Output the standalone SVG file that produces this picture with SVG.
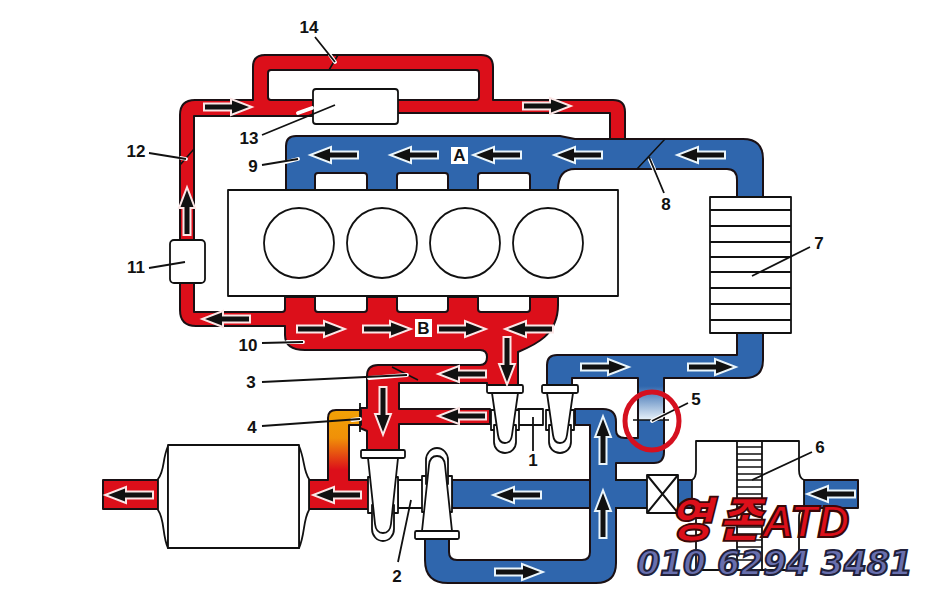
<svg xmlns="http://www.w3.org/2000/svg" width="950" height="601" viewBox="0 0 950 601">
<style>
.p{stroke:#1a1014;stroke-width:2;stroke-linejoin:round}
.r{fill:#dc0f1a}
.b{fill:#2f66ad}
.w{fill:#fff;stroke:#111;stroke-width:1.8;stroke-linejoin:round}
.l{fill:none;stroke:#111;stroke-width:2}
.t{fill:#111;font-family:"Liberation Sans",Arial,sans-serif;font-weight:700;font-size:17px;text-anchor:middle}
.lead{fill:none;stroke:#111;stroke-width:1.8}
.halo{fill:none;stroke:#fff;stroke-width:3.8;stroke-linecap:round}
.ar{stroke:#fbe6e6;stroke-width:4;paint-order:stroke;stroke-linejoin:miter;fill:#111}
.ab{stroke:#eaf5fb;stroke-width:4;paint-order:stroke;stroke-linejoin:miter;fill:#111}
.wm1{font-family:"Noto Sans CJK KR",sans-serif;font-weight:900;font-style:italic;fill:#dc0f1a;stroke:#3a0808;stroke-width:1.8;font-size:48px}
.wm2{font-family:"Liberation Sans",Arial,sans-serif;font-weight:700;font-style:italic;fill:#dc0f1a;stroke:#3a0808;stroke-width:2.2;font-size:44px}
.wm3{font-family:"DejaVu Sans",sans-serif;font-weight:700;font-style:italic;fill:#686fae;stroke:#20203a;stroke-width:2;font-size:33px}
</style>
<defs>
<linearGradient id="gw" gradientUnits="userSpaceOnUse" x1="0" y1="412" x2="0" y2="470"><stop offset="0" stop-color="#f2a106"/><stop offset="0.45" stop-color="#f09008"/><stop offset="1" stop-color="#dc0f1a"/></linearGradient>
<linearGradient id="gv" gradientUnits="userSpaceOnUse" x1="0" y1="386" x2="0" y2="420"><stop offset="0" stop-color="#2f66ad"/><stop offset="1" stop-color="#e8f2fa"/></linearGradient>
<path id="a" d="M-22,-2.500H5V-6.500L22,0L5,6.500V2.500H-22Z"/>
<g id="nz1">
<rect class="w" x="-14" y="25" width="28" height="20"/>
<path class="w" d="M-11,40V57A11,11 0 0 0 11,57V40Z"/>
<path class="w" d="M-13,8L-7,50Q-6,58 0,58Q6,58 7,50L13,8Z"/>
<rect class="w" x="-18" y="0" width="36" height="8" rx="1.5"/>
</g>
<g id="nz2">
<rect class="w" x="-15" y="27" width="30" height="36"/>
<path class="w" d="M-11,55V79A11,12 0 0 0 11,79V55Z"/>
<path class="w" d="M-15,8L-8,74Q-7,83 0,83Q7,83 8,74L15,8Z"/>
<rect class="w" x="-22" y="0" width="44" height="8" rx="1.5"/>
</g>
</defs>
<rect width="950" height="601" fill="#fff"/>

<g id="charge-air-hot">
<path class="p r" fill-rule="evenodd" d="M625,139V112Q625,100 613,100H493V67Q493,55 481,55H265Q253,55 253,67V100H195Q180,100 180,115V242H194V116H313V113H610V139ZM271,70H476Q479,70 479,73V97Q479,100 476,100H271Q268,100 268,97V73Q268,70 271,70Z"/>
<path class="p r" d="M180,281V310Q180,326 196,326H285V335Q285,350 305,350H480Q487,350 487,357Q487,365 480,365H378Q367,365 367,376V408L360,408V428L367,431V452H399V424H490V409H399V383H487V385H518V352C535,345 558,335 558,305V297H530V309Q530,312 527,312H481Q478,312 478,309V297H448V309Q448,312 445,312H400Q397,312 397,309V297H367V309Q367,312 364,312H318Q315,312 315,309V297H285V309Q285,312 282,312H194V281Z"/>
</g>
<g id="charge-air-cold">
<path class="p b" d="M286,190V146Q286,136 296,136H560L575,139H743Q763,139 763,159V197H737V180Q737,169 727,169H575Q558,169 558,190H530V176Q530,173 527,173H481Q478,173 478,176V190H448V176Q448,173 445,173H400Q397,173 397,176V190H367V176Q367,173 364,173H318Q315,173 315,176V190Z"/>
<rect class="p b" x="452" y="480" width="140" height="28"/>
<path class="p b" d="M425,538V560Q425,583 448,583H596Q616,583 616,563V463H654Q664,463 664,452V378H745Q763,378 763,360V333H737V355H557Q547,355 547,365V385H572V378H638V438H625Q616,438 616,430V422Q616,409 603,409H575V425H590V552Q590,560 582,560H457Q449,560 449,552V538Z"/>
<rect x="639" y="386" width="24" height="34" fill="url(#gv)"/>
<rect class="b" x="614" y="481" width="36" height="26"/>
<path class="l" d="M616,480H647M616,508H647"/>
</g>
<g id="engine">
<rect class="w" x="228" y="190" width="390" height="106"/>
<circle class="w" cx="299" cy="243" r="35"/>
<circle class="w" cx="382" cy="243" r="35"/>
<circle class="w" cx="465" cy="243" r="35"/>
<circle class="w" cx="548" cy="243" r="35"/>
</g>
<g id="box-13"><rect class="w" x="313" y="89" width="85" height="35" rx="3"/></g>
<g id="box-11"><rect class="w" x="170" y="240" width="35" height="43" rx="4"/></g>
<g id="intercooler">
<rect class="w" x="710" y="197" width="81" height="136"/>
<path class="l" d="M710,210H791M710,226H791M710,242H791M710,257H791M710,272H791M710,288H791M710,304H791M710,320H791"/>
</g>
<g id="exhaust">
<path class="p r" d="M103,480H158V509H103Z"/>
<path class="p" fill="url(#gw)" d="M309,480H328V418Q328,410 336,410H361V425H349V480H368V509H309Z"/>
<path class="r" d="M352,481H369V508H352Z"/>
<path class="w" d="M168,446C162,460 165,470 158,479V510C165,520 162,535 168,548Z"/>
<path class="w" d="M299,446C305,460 303,470 309,479V510C303,520 305,535 299,548Z"/>
<rect class="w" x="168" y="445" width="131" height="103"/>
<path class="lead" d="M360,403V432"/>
</g>
<g id="air-filter">
<rect class="p b" x="678" y="480" width="16" height="28"/>
<path class="p b" d="M804,480H858V508H804Z"/>
<path class="w" d="M692,480Q696,478 696,470V441H799V470Q799,478 804,480V508Q799,510 799,518V570H696V518Q696,510 692,508Z"/>
<rect class="w" x="737" y="441" width="25" height="129"/>
<path class="l" style="stroke-width:1.5" d="M737,447H762M737,454H762M737,460H762M737,467H762M737,474H762M737,480H762M737,487H762M737,494H762M737,500H762M737,507H762M737,514H762M737,520H762M737,527H762M737,534H762M737,540H762M737,547H762M737,554H762M737,560H762"/>
</g>
<g id="valve"><rect class="w" x="647" y="475" width="31" height="38"/><path class="l" d="M647,475L678,513M678,475L647,513"/></g>
<g id="turbo-1">
<path class="w" d="M518,409H543V425H518Z"/>
<use href="#nz1" x="505" y="385"/>
<use href="#nz1" x="560" y="385"/>
</g>
<g id="turbo-2">
<path class="w" d="M398,480H425V508H398Z"/>
<use href="#nz2" x="383" y="450"/>
<use href="#nz2" transform="translate(437,539) scale(1,-1)"/>
</g>

<g id="flow-arrows">
<use href="#a" class="ar" transform="translate(227,107)"/>
<use href="#a" class="ar" transform="translate(546,106)"/>
<use href="#a" class="ar" transform="translate(187,212) rotate(-90)"/>
<use href="#a" class="ar" transform="translate(227,319) rotate(180)"/>
<use href="#a" class="ar" transform="translate(320,329)"/>
<use href="#a" class="ar" transform="translate(386,329)"/>
<use href="#a" class="ar" transform="translate(461,329)"/>
<use href="#a" class="ar" transform="translate(530,329) rotate(180)"/>
<use href="#a" class="ar" transform="translate(507,360) rotate(90)"/>
<use href="#a" class="ar" transform="translate(463,374) rotate(180)"/>
<use href="#a" class="ar" transform="translate(463,416) rotate(180)"/>
<use href="#a" class="ar" transform="translate(383,410) rotate(90)"/>
<use href="#a" class="ar" transform="translate(338,495) rotate(180)"/>
<use href="#a" class="ar" transform="translate(130,495) rotate(180)"/>
<use href="#a" class="ab" transform="translate(335,155) rotate(180)"/>
<use href="#a" class="ab" transform="translate(415,155) rotate(180)"/>
<use href="#a" class="ab" transform="translate(498,155) rotate(180)"/>
<use href="#a" class="ab" transform="translate(579,155) rotate(180)"/>
<use href="#a" class="ab" transform="translate(702,155) rotate(180)"/>
<use href="#a" class="ab" transform="translate(604,367)"/>
<use href="#a" class="ab" transform="translate(711,367)"/>
<use href="#a" class="ab" transform="translate(603,441) rotate(-90)"/>
<use href="#a" class="ab" transform="translate(603,515) rotate(-90)"/>
<use href="#a" class="ab" transform="translate(518,495) rotate(180)"/>
<use href="#a" class="ab" transform="translate(518,572)"/>
<use href="#a" class="ab" transform="translate(832,494) rotate(180)"/>
</g>

<g id="connectors">
<path class="lead" style="stroke-width:1.5" d="M338,55L329,70M194,149L180,165M665,139L637,169M392,367L418,380M633,420H669"/>
<path class="halo" d="M330,55L335,62M181,158L186,159M286,162L298,159M650,160L654,169M287,342L303,342M369,378L407,375M352,420L360,419M664,415L652,421M298,113L312,108"/>
<path class="lead" d="M315,37L335,62M149,153L186,159M262,165L298,159M262,135L335,105M664,193L649,157M262,343L303,342M262,382L407,375M262,426L360,419M533,417V451M411,500L398,562M810,247L752,276M688,403L652,421M812,452L752,480M149,268L185,262"/>
</g>
<g id="labels">
<rect x="451" y="147" width="17" height="17" fill="#fff"/>
<text class="t" x="459.500" y="161">A</text>
<rect x="415" y="319" width="17" height="18" fill="#fff"/>
<text class="t" x="423.500" y="334">B</text>
<text class="t" x="309" y="33">14</text>
<text class="t" x="136" y="157">12</text>
<text class="t" x="249" y="144">13</text>
<text class="t" x="253" y="172">9</text>
<text class="t" x="136" y="273">11</text>
<text class="t" x="248" y="351">10</text>
<text class="t" x="251" y="388">3</text>
<text class="t" x="252" y="433">4</text>
<text class="t" x="397" y="582">2</text>
<text class="t" x="533" y="466">1</text>
<text class="t" x="696" y="405">5</text>
<text class="t" x="820" y="453">6</text>
<text class="t" x="819" y="249">7</text>
<text class="t" x="666" y="210">8</text>
</g>
<ellipse cx="652" cy="421" rx="27" ry="29" fill="none" stroke="#d5101f" stroke-width="5"/>
<g id="watermark">
<text class="wm1" x="668" y="537">영</text>
<text class="wm1" x="718" y="537">존</text>
<text class="wm2" x="762" y="537">ATD</text>
<text class="wm3" x="637" y="575">010 6294 3481</text>
</g>
</svg>
